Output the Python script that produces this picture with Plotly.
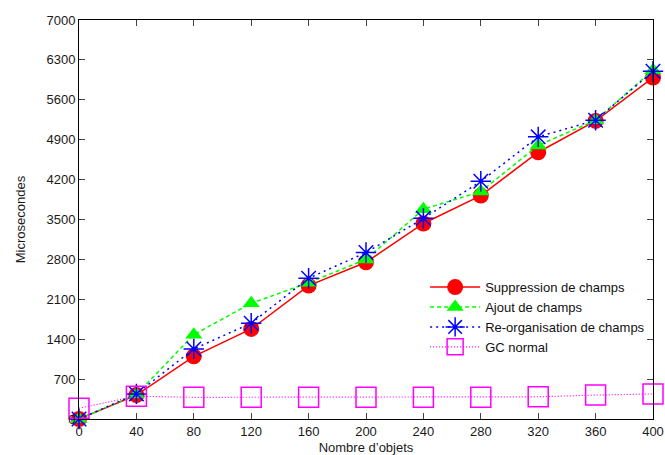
import plotly.graph_objects as go

nb_objets = [0, 40, 80, 120, 160, 200, 240, 280, 320, 360, 400]
suppression = [0, 420, 1100, 1580, 2340, 2750, 3430, 3920, 4680, 5230, 5990]
ajout = [0, 430, 1480, 2030, 2390, 2800, 3680, 3990, 4800, 5240, 6120]
reorg = [0, 440, 1230, 1680, 2470, 2920, 3520, 4170, 4950, 5240, 6100]
gc_normal = [190, 400, 380, 380, 380, 380, 380, 380, 390, 420, 440]

x_ticks = [0, 40, 80, 120, 160, 200, 240, 280, 320, 360, 400]
y_ticks = [0, 700, 1400, 2100, 2800, 3500, 4200, 4900, 5600, 6300, 7000]

fig = go.Figure()
fig.add_trace(go.Scatter(x=nb_objets, y=suppression, name="Suppression de champs",
    mode="lines+markers", line=dict(color="#ff0000", width=1.5),
    marker=dict(symbol="circle", size=16, color="#ff0000"), cliponaxis=False))
fig.add_trace(go.Scatter(x=nb_objets, y=ajout, name="Ajout de champs",
    mode="lines+markers", line=dict(color="#00ff00", width=1.5, dash="4px,3px"),
    marker=dict(symbol="triangle-up", size=15, color="#00ff00"), cliponaxis=False))
fig.add_trace(go.Scatter(x=nb_objets, y=reorg, name="Re-organisation de champs",
    mode="lines+markers", line=dict(color="#0000ff", width=1.5, dash="2px,4px"),
    marker=dict(symbol="asterisk-open", size=17, color="#0000ff", line=dict(color="#0000ff", width=1.5)),
    cliponaxis=False))
fig.add_trace(go.Scatter(x=nb_objets, y=gc_normal, name="GC normal",
    mode="lines+markers", line=dict(color="#ff00ff", width=1.2, dash="1px,2px"),
    marker=dict(symbol="square-open", size=20, color="#ff00ff", line=dict(color="#ff00ff", width=1.5)),
    cliponaxis=False))

axis_font = dict(family="Liberation Sans, Arial, sans-serif", size=13, color="#1a1a1a")
fig.update_layout(
    width=665, height=455,
    margin=dict(l=79, r=12, t=20, b=36, autoexpand=False),
    paper_bgcolor="white", plot_bgcolor="white",
    font=axis_font,
    showlegend=True,
    legend=dict(x=0.995, y=0.368, xanchor="right", yanchor="top",
                bgcolor="rgba(0,0,0,0)", font=dict(size=13, color="#111"),
                itemwidth=50),
    xaxis=dict(range=[0, 400], tickvals=x_ticks, ticks="inside", ticklen=6,
               showline=True, linecolor="black", linewidth=1, mirror="ticks",
               showgrid=False, zeroline=False, automargin=False,
               tickfont=dict(size=13),
               title=dict(text="Nombre d’objets", standoff=7, font=dict(size=13))),
    yaxis=dict(range=[0, 7000], tickvals=y_ticks, ticks="inside", ticklen=6,
               showline=True, linecolor="black", linewidth=1, mirror="ticks",
               showgrid=False, zeroline=False, automargin=False,
               tickfont=dict(size=13),
               title=dict(text="Microsecondes", standoff=17, font=dict(size=13))),
)

fig.write_html("out.html", config={"displayModeBar": False},
               post_script="document.body.style.margin='0';document.body.style.overflow='hidden';")
